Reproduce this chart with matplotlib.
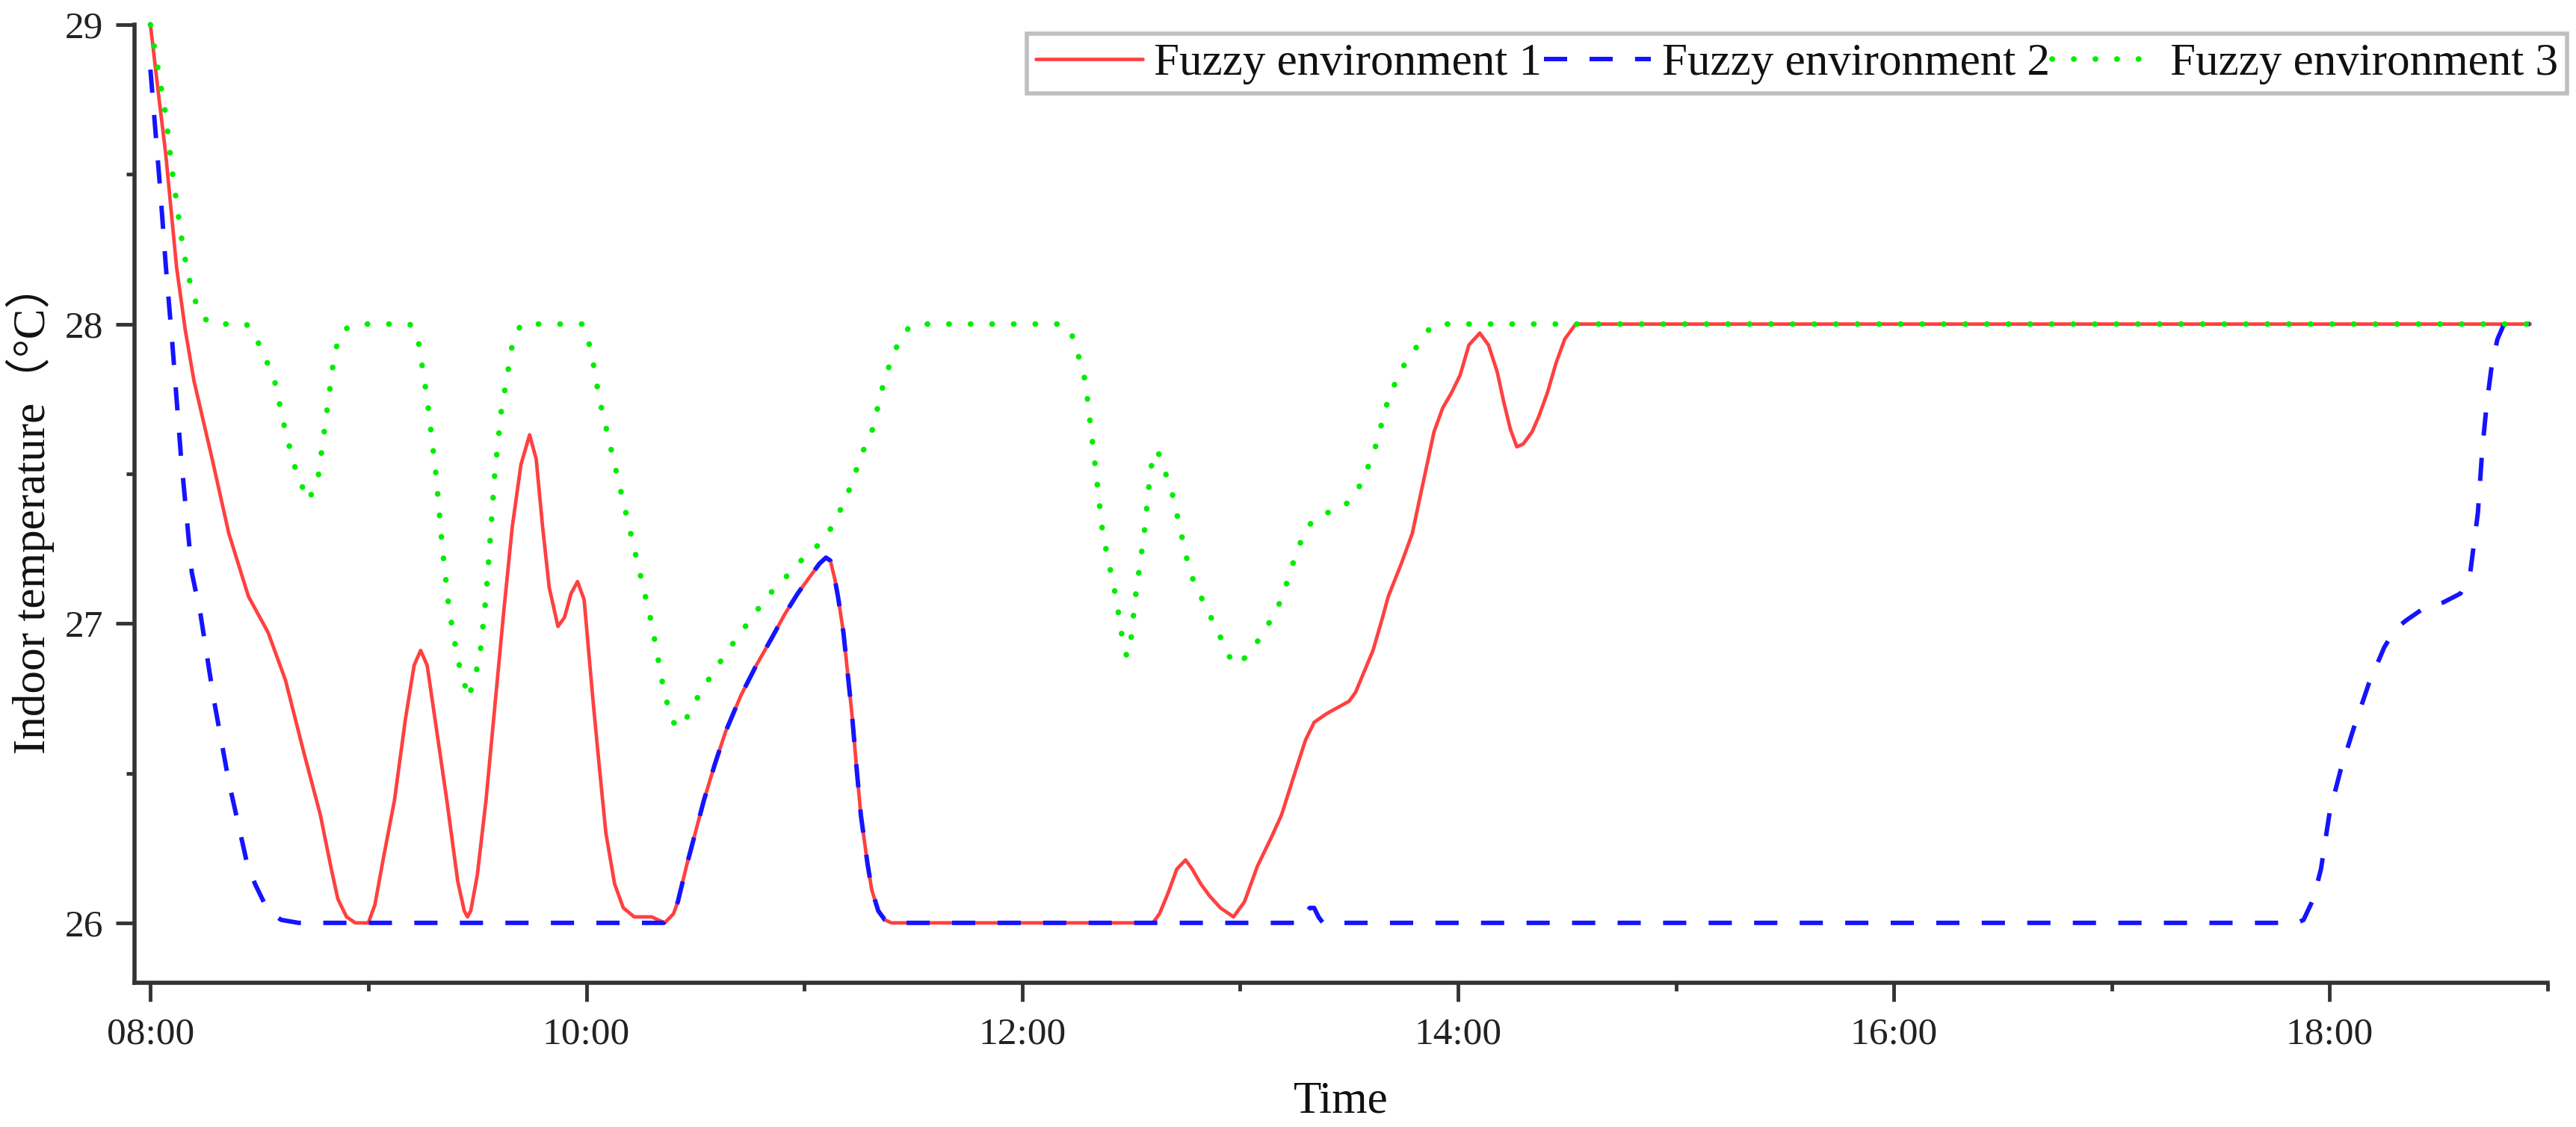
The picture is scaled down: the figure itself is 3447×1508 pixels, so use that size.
import matplotlib
matplotlib.use("Agg")
import matplotlib.pyplot as plt
from matplotlib.ticker import FixedLocator, FuncFormatter

# ---- data (hours since midnight, indoor temperature in °C) ----
t_env1 = [8.00, 8.04, 8.07, 8.12, 8.16, 8.20, 8.28, 8.36, 8.45, 8.54, 8.62, 8.70, 8.78,
          8.83, 8.86, 8.90, 8.94, 9.00, 9.03, 9.07, 9.12, 9.17, 9.21, 9.24, 9.27, 9.31,
          9.36, 9.41, 9.44, 9.455, 9.47, 9.50, 9.54, 9.58, 9.62, 9.66, 9.70, 9.74, 9.77,
          9.80, 9.83, 9.87, 9.90, 9.93, 9.96, 9.99, 10.03, 10.06, 10.09, 10.13, 10.17,
          10.22, 10.30, 10.36, 10.40, 10.42, 10.46, 10.50, 10.54, 10.59, 10.64, 10.71,
          10.78, 10.85, 10.91, 10.97, 11.03, 11.07, 11.10, 11.12, 11.14, 11.155, 11.18,
          11.20, 11.22, 11.24, 11.26, 11.29, 11.31, 11.34, 11.37, 11.40, 12.60, 12.63,
          12.67, 12.71, 12.75, 12.78, 12.82, 12.86, 12.91, 12.97, 13.02, 13.08, 13.14,
          13.19, 13.26, 13.30, 13.34, 13.40, 13.45, 13.50, 13.53, 13.57, 13.61, 13.65,
          13.68, 13.74, 13.79, 13.84, 13.89, 13.93, 13.97, 14.01, 14.05, 14.10, 14.14,
          14.18, 14.21, 14.24, 14.27, 14.30, 14.34, 14.37, 14.41, 14.45, 14.49, 14.54,
          18.92]
T_env1 = [29.00, 28.75, 28.57, 28.19, 27.98, 27.81, 27.56, 27.30, 27.09, 26.97, 26.81, 26.58, 26.36,
          26.18, 26.08, 26.02, 26.00, 26.00, 26.06, 26.22, 26.41, 26.68, 26.86, 26.91, 26.86, 26.66,
          26.41, 26.14, 26.04, 26.02, 26.04, 26.16, 26.41, 26.72, 27.03, 27.32, 27.53, 27.63, 27.55,
          27.32, 27.12, 26.99, 27.02, 27.10, 27.14, 27.08, 26.75, 26.52, 26.30, 26.13, 26.05,
          26.02, 26.02, 26.00, 26.03, 26.07, 26.19, 26.30, 26.41, 26.53, 26.64, 26.76,
          26.86, 26.95, 27.03, 27.10, 27.16, 27.20, 27.22, 27.21, 27.15, 27.09, 26.97,
          26.83, 26.69, 26.52, 26.36, 26.20, 26.11, 26.04, 26.01, 26.00, 26.00, 26.03,
          26.10, 26.18, 26.21, 26.18, 26.13, 26.09, 26.05, 26.02, 26.07, 26.19, 26.28,
          26.36, 26.52, 26.61, 26.67, 26.70, 26.72, 26.74, 26.77, 26.84, 26.91, 27.01,
          27.09, 27.20, 27.30, 27.47, 27.64, 27.72, 27.77, 27.83, 27.93, 27.97, 27.93,
          27.84, 27.74, 27.65, 27.59, 27.60, 27.64, 27.69, 27.77, 27.87, 27.95, 28.00,
          28.00]

t_env2 = [8.00, 8.045, 8.07, 8.10, 8.14, 8.19, 8.23, 8.29, 8.36, 8.44, 8.48, 8.52, 8.56,
          8.60, 8.68, 10.355, 10.40, 10.42, 10.46, 10.50, 10.54, 10.59, 10.64, 10.71,
          10.78, 10.85, 10.91, 10.97, 11.03, 11.07, 11.10, 11.12, 11.14, 11.155, 11.18,
          11.20, 11.22, 11.24, 11.26, 11.29, 11.31, 11.34, 11.37, 11.40, 13.28, 13.30,
          13.32, 13.34, 13.36, 13.38, 17.85, 17.88, 17.925, 17.96, 18.00, 18.05, 18.11,
          18.18, 18.25, 18.30, 18.35, 18.43, 18.52, 18.60, 18.645, 18.68, 18.70, 18.72,
          18.745, 18.77, 18.80, 18.92]
T_env2 = [28.85, 28.45, 28.20, 27.94, 27.56, 27.17, 27.03, 26.75, 26.47, 26.21, 26.13, 26.07, 26.03,
          26.01, 26.00, 26.00, 26.03, 26.07, 26.19, 26.30, 26.41, 26.53, 26.64, 26.76,
          26.86, 26.95, 27.03, 27.10, 27.16, 27.20, 27.22, 27.21, 27.15, 27.09, 26.97,
          26.83, 26.69, 26.52, 26.36, 26.20, 26.11, 26.04, 26.01, 26.00, 26.00, 26.03,
          26.05, 26.05, 26.02, 26.00, 26.00, 26.01, 26.08, 26.18, 26.37, 26.51, 26.65,
          26.80, 26.92, 26.98, 27.01, 27.05, 27.07, 27.10, 27.17, 27.37, 27.58, 27.73,
          27.87, 27.95, 28.00, 28.00]

t_env3 = [8.00, 8.04, 8.07, 8.10, 8.15, 8.19, 8.23, 8.28, 8.44, 8.48, 8.52, 8.57, 8.62,
          8.675, 8.727, 8.77, 8.81, 8.846, 8.885, 8.94, 9.19, 9.226, 9.27, 9.31, 9.34,
          9.37, 9.41, 9.46, 9.51, 9.54, 9.56, 9.58, 9.61, 9.64, 9.66, 9.70, 9.98, 10.02,
          10.06, 10.14, 10.22, 10.30, 10.36, 10.40, 10.425, 10.45, 10.50, 10.55, 10.64,
          10.73, 10.83, 10.91, 10.97, 11.05, 11.125, 11.18, 11.22, 11.26, 11.31, 11.34,
          11.37, 11.41, 11.44, 11.47, 11.50, 12.19, 12.23, 12.26, 12.29, 12.33, 12.37,
          12.43, 12.46, 12.48, 12.50, 12.52, 12.56, 12.59, 12.62, 12.65, 12.69, 12.77,
          12.82, 12.90, 12.95, 12.99, 13.04, 13.11, 13.19, 13.26, 13.30, 13.34, 13.40,
          13.46, 13.53, 13.61, 13.68, 13.74, 13.79, 13.84, 13.89, 18.92]
T_env3 = [29.00, 28.83, 28.70, 28.51, 28.25, 28.11, 28.03, 28.00, 28.00, 27.96, 27.90, 27.81, 27.64,
          27.49, 27.41, 27.49, 27.71, 27.91, 27.98, 28.00, 28.00, 27.96, 27.75, 27.50, 27.25,
          27.05, 26.88, 26.75, 26.88, 27.09, 27.29, 27.50, 27.71, 27.84, 27.93, 28.00, 28.00, 27.92,
          27.75, 27.50, 27.25, 27.00, 26.76, 26.67, 26.65, 26.67, 26.74, 26.80, 26.90,
          26.99, 27.09, 27.15, 27.20, 27.25, 27.32, 27.40, 27.47, 27.56, 27.64, 27.73,
          27.82, 27.90, 27.95, 27.98, 28.00, 28.00, 27.96, 27.89, 27.81, 27.56, 27.30,
          27.09, 26.95, 26.89, 26.95, 27.09, 27.30, 27.52, 27.58, 27.52, 27.43, 27.17,
          27.09, 26.97, 26.89, 26.86, 26.90, 26.97, 27.08, 27.24, 27.31, 27.35, 27.37,
          27.38, 27.43, 27.56, 27.75, 27.85, 27.90, 27.96, 28.00, 28.00]

series_names = ["Fuzzy environment 1", "Fuzzy environment 2", "Fuzzy environment 3"]
major_hours = [8, 10, 12, 14, 16, 18]
minor_hours = [9, 11, 13, 15, 17, 19]
y_major = [26, 27, 28, 29]
y_minor = [26.5, 27.5, 28.5]

# ---- style ----
plt.rcParams['font.family'] = ['Liberation Serif', 'Noto Sans CJK SC', 'DejaVu Sans']
axis_col = '#333333'

fig = plt.figure(figsize=(34.48, 15.08), dpi=100)
ax = fig.add_axes([0.0522, 0.1280, 0.9365, 0.8501])

l1, = ax.plot(t_env1, T_env1, color='#FF4040', lw=3.4, solid_capstyle='round',
              label=series_names[0], clip_on=False, zorder=2)
l2, = ax.plot(t_env2, T_env2, color='#1414FF', lw=4.3, linestyle=(0, (5.2, 5.0)),
              label=series_names[1], clip_on=False, zorder=3)
l3, = ax.plot(t_env3, T_env3, color='#00EE00', lw=5.4, linestyle=(0, (0.05, 3.8)),
              dash_capstyle='round', label=series_names[2], clip_on=False, zorder=4)

ax.set_xlim(7.927, 19.0)
ax.set_ylim(25.8, 29.0)

for s in ['top', 'right']:
    ax.spines[s].set_visible(False)
for s in ['left', 'bottom']:
    ax.spines[s].set_linewidth(4)
    ax.spines[s].set_color(axis_col)

ax.xaxis.set_major_locator(FixedLocator(major_hours))
ax.xaxis.set_minor_locator(FixedLocator(minor_hours))
ax.xaxis.set_major_formatter(FuncFormatter(lambda v, p: f"{int(round(v)):02d}:00"))
ax.yaxis.set_major_locator(FixedLocator(y_major))
ax.yaxis.set_minor_locator(FixedLocator(y_minor))
ax.yaxis.set_major_formatter(FuncFormatter(lambda v, p: f"{int(round(v))}"))

ax.tick_params(which='major', direction='out', length=18, width=3.5, color=axis_col,
               labelsize=37, labelcolor='#222222', pad=12)
ax.tick_params(axis='x', which='major', pad=15)
ax.tick_params(which='minor', direction='out', length=8, width=3.5, color=axis_col)

ax.set_xlabel("Time", fontsize=44, color='#111111')
ax.set_ylabel("Indoor temperature（°C）", fontsize=44, color='#111111')
ax.xaxis.set_label_coords(0.5, -0.102)
ax.yaxis.set_label_coords(-0.033, 0.495)

leg = fig.legend(handles=[l1, l2, l3], loc='upper right', bbox_to_anchor=(0.9962, 0.970),
                 ncol=3, fontsize=44, frameon=True, fancybox=False, handlelength=2.33,
                 handletextpad=0.25, columnspacing=0.05, borderpad=0.2, borderaxespad=0.0)
leg.get_frame().set_edgecolor('#b0b0b0')
leg.get_frame().set_linewidth(4)
for txt in leg.get_texts():
    txt.set_color('#111111')

fig.savefig("out.png", dpi=100, facecolor='white')
